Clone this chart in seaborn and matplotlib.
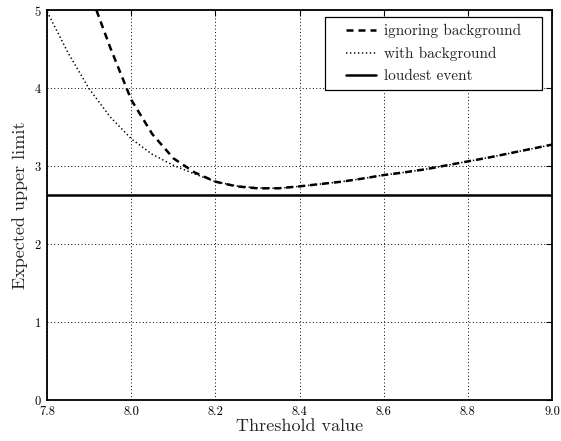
import numpy as np
import pandas as pd
import matplotlib
matplotlib.use("Agg")
import matplotlib.pyplot as plt
from matplotlib.path import Path
import seaborn as sns

# Data
thresh_ignore = [7.90, 7.95, 8.00, 8.05, 8.10, 8.15, 8.20, 8.25, 8.30, 8.35, 8.40, 8.45,
                 8.50, 8.55, 8.60, 8.65, 8.70, 8.75, 8.80, 8.85, 8.90, 8.95, 9.00]
limit_ignore = [5.25, 4.52, 3.85, 3.41, 3.10, 2.92, 2.80, 2.74, 2.715, 2.715, 2.74, 2.77,
                2.80, 2.84, 2.885, 2.92, 2.96, 3.01, 3.06, 3.11, 3.165, 3.22, 3.275]
thresh_bg = [7.80, 7.85, 7.90, 7.95, 8.00, 8.05, 8.10, 8.15, 8.20, 8.25, 8.30, 8.35, 8.40,
             8.45, 8.50, 8.55, 8.60, 8.65, 8.70, 8.75, 8.80, 8.85, 8.90, 8.95, 9.00]
limit_bg = [4.98, 4.45, 3.99, 3.63, 3.35, 3.15, 3.01, 2.90, 2.80, 2.745, 2.72, 2.715, 2.74,
            2.77, 2.80, 2.84, 2.885, 2.92, 2.96, 3.01, 3.06, 3.11, 3.165, 3.22, 3.275]
loudest = 2.63

df_ignore = pd.DataFrame({'Threshold': thresh_ignore, 'Limit': limit_ignore})
df_bg = pd.DataFrame({'Threshold': thresh_bg, 'Limit': limit_bg})

sns.set_style('white')
plt.rcParams['font.family'] = ['cmr10', 'DejaVu Serif']
plt.rcParams['axes.formatter.use_mathtext'] = True
plt.rcParams['mathtext.fontset'] = 'cm'

fig = plt.figure(figsize=(5.61, 4.41), dpi=100)
ax = fig.add_axes([0.084, 0.093, 0.9, 0.884])

sns.lineplot(data=df_ignore, x='Threshold', y='Limit', ax=ax, color='black',
             linewidth=1.8, label='ignoring background')
ax.lines[-1].set_dashes((2.8, 2.0))
sns.lineplot(data=df_bg, x='Threshold', y='Limit', ax=ax, color='black',
             linewidth=1.1, label='with background')
ax.lines[-1].set_dashes((0.9, 1.7))
ax.axhline(loudest, color='black', linewidth=1.8, label='loudest event')

ax.set_xlim(7.8, 9.0)
ax.set_ylim(0, 5)
ax.set_xticks([7.8, 8.0, 8.2, 8.4, 8.6, 8.8, 9.0])
ax.set_xticklabels(['7.8', '8.0', '8.2', '8.4', '8.6', '8.8', '9.0'])
ax.set_yticks([0, 1, 2, 3, 4, 5])
ax.grid(True, color='black', linestyle=(0, (1, 2.5)), linewidth=0.7)
ax.tick_params(direction='in', top=True, right=True, length=4, width=0.8,
               labelsize=9, colors='black', pad=4)
for s in ax.spines.values():
    s.set_color('black')
    s.set_linewidth(1.3)

ax.set_xlabel('Threshold value', fontsize=13, labelpad=1)
ax.set_ylabel('Expected upper limit', fontsize=13, labelpad=4)


# legend frame with extra room left and right of the entries
def wide_box(x0, y0, width, height, mutation_size):
    padx = 0.9 * mutation_size
    return Path([(x0 - padx, y0), (x0 + width + padx, y0),
                 (x0 + width + padx, y0 + height), (x0 - padx, y0 + height),
                 (x0 - padx, y0)], closed=True)


leg = ax.legend(loc='upper right', bbox_to_anchor=(0.9525, 0.982), borderaxespad=0,
                fontsize=11, fancybox=False, framealpha=1, edgecolor='black',
                handlelength=2.0, handletextpad=0.5, labelspacing=0.55, borderpad=0.45)
leg.get_frame().set_boxstyle(wide_box)
leg.get_frame().set_linewidth(0.9)

fig.savefig('out.png', dpi=100)
